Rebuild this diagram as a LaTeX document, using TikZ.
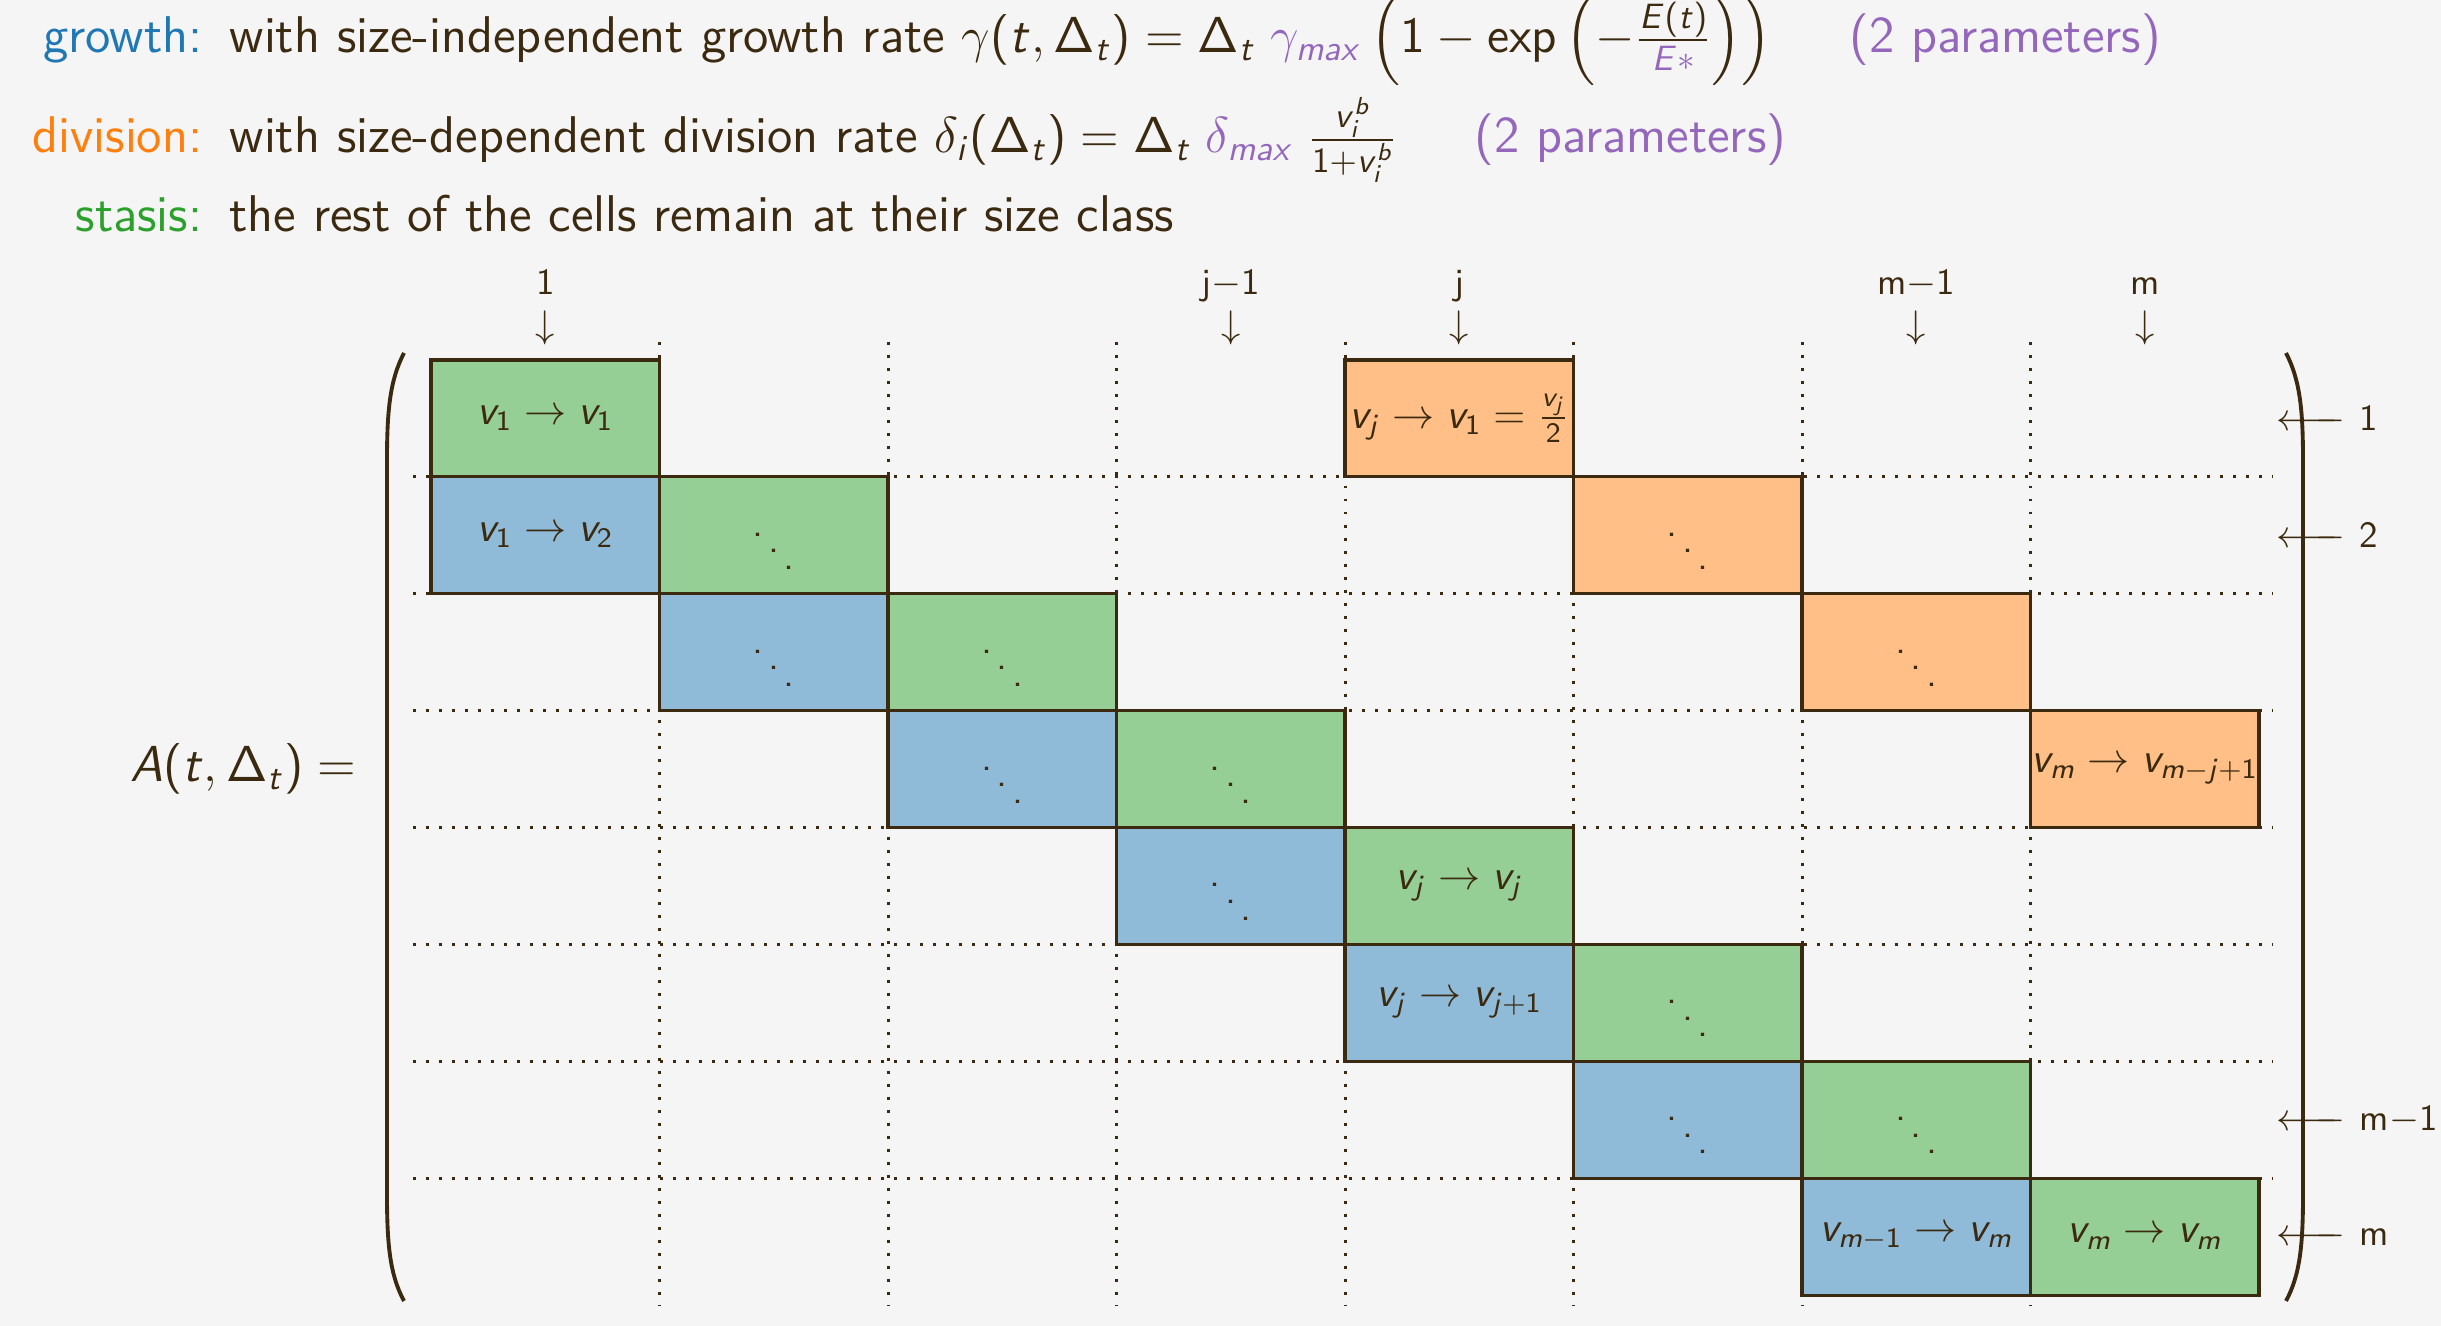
\documentclass[tikz,border=0pt]{standalone}
\usepackage{amsmath}
\usepackage{tikz}

\definecolor{ink}{HTML}{3C2A10}
\definecolor{paper}{HTML}{F5F5F5}
\definecolor{tabblue}{HTML}{1F77B4}
\definecolor{taborange}{HTML}{FF7F0E}
\definecolor{tabgreen}{HTML}{2CA02C}
\definecolor{tabpurple}{HTML}{9467BD}

\SetSymbolFont{operators}{normal}{OT1}{cmss}{m}{n}
\DeclareSymbolFont{sfitalic}{OT1}{cmss}{m}{sl}
\makeatletter
\count@=`a
\loop
  \mathcode\count@=\numexpr"7000+\symsfitalic*"100+\count@\relax
  \ifnum\count@<`z \advance\count@\@ne\repeat
\count@=`A
\loop
  \mathcode\count@=\numexpr"7000+\symsfitalic*"100+\count@\relax
  \ifnum\count@<`Z \advance\count@\@ne\repeat
\makeatother

\newcommand{\celldots}{\mathinner{\mkern1mu\raise9.4pt\vbox{\kern9pt\hbox{.}}\mkern2mu\raise4.7pt\hbox{.}\mkern2mu\hbox{.}\mkern1mu}}
\newcommand{\rowarrow}{\leftarrow\joinrel\relbar\mkern-11mu\relbar}

\begin{document}
\begin{tikzpicture}[font=\sffamily, every node/.style={text=ink}]
    \tikzstyle{cell}     = [draw=ink, line width=0.9pt, minimum width=2.285cm, minimum height=1.169cm,
                            inner sep=0pt, font=\sffamily\fontsize{11.5}{14}\selectfont]
    \tikzstyle{stasis}   = [cell, fill=tabgreen!50]
    \tikzstyle{growth}   = [cell, fill=tabblue!50]
    \tikzstyle{division} = [cell, fill=taborange!50]
    \tikzstyle{dotline}  = [draw=ink, line width=0.85pt, dash pattern=on 0.85pt off 2.85pt]
    \tikzstyle{head}     = [inner sep=0pt, font=\sffamily\fontsize{14.7}{17}\selectfont]
    \tikzstyle{idx}      = [inner sep=0pt, font=\sffamily\fontsize{10.5}{12}\selectfont]
    \tikzstyle{paren}    = [draw=ink, line width=1.1pt]

    \fill[paper] (0,0) rectangle (24.41,-13.26);
    \useasboundingbox (0,0) rectangle (24.41,-13.26);

    \node[head, anchor=base east, text=tabblue] (lgrowth) at (2.03,-0.53) {growth:};
    \node[head, anchor=base west] (tgrowth) at (2.29,-0.53)
      {with size-independent growth rate $\gamma(t,\Delta_t) = \Delta_t\;{\color{tabpurple}\gamma_{max}}\left(1-\exp\left(-\frac{E(t)}{\color{tabpurple}E*}\right)\right)$\hspace{1.5em}{\color{tabpurple}(2 parameters)}};
    \node[head, anchor=base east, text=taborange] (ldivision) at (2.03,-1.53) {division:};
    \node[head, anchor=base west] (tdivision) at (2.29,-1.53)
      {with size-dependent division rate $\delta_i(\Delta_t) = \Delta_t\;{\color{tabpurple}\delta_{max}}\;\frac{v_i^b}{1+v_i^b}$\hspace{1.5em}{\color{tabpurple}(2 parameters)}};
    \node[head, anchor=base east, text=tabgreen] (lstasis) at (2.03,-2.32) {stasis:};
    \node[head, anchor=base west] (tstasis) at (2.29,-2.32) {the rest of the cells remain at their size class};

    \node[head, anchor=base east] (lhs) at (3.57,-7.82) {$A(t,\Delta_t) =$};

    \draw[paren] (4.04,-3.53) .. controls (3.90,-3.80) and (3.87,-4.10) .. (3.87,-4.60)
      -- (3.87,-11.95) .. controls (3.87,-12.45) and (3.90,-12.75) .. (4.04,-13.01);
    \draw[paren] (22.86,-3.53) .. controls (23.00,-3.80) and (23.03,-4.10) .. (23.03,-4.60)
      -- (23.03,-11.95) .. controls (23.03,-12.45) and (23.00,-12.75) .. (22.86,-13.01);

    \begin{scope}[shift={(4.31cm,-3.60cm)}, x=2.285cm, y=-1.169cm]
    \draw[dotline] (-0.08,1) -- (8.06,1);
    \draw[dotline] (-0.08,2) -- (8.06,2);
    \draw[dotline] (-0.08,3) -- (8.06,3);
    \draw[dotline] (-0.08,4) -- (8.06,4);
    \draw[dotline] (-0.08,5) -- (8.06,5);
    \draw[dotline] (-0.08,6) -- (8.06,6);
    \draw[dotline] (-0.08,7) -- (8.06,7);
    \draw[dotline] (1,-0.15) -- (1,8.09);
    \draw[dotline] (2,-0.15) -- (2,8.09);
    \draw[dotline] (3,-0.15) -- (3,8.09);
    \draw[dotline] (4,-0.15) -- (4,8.09);
    \draw[dotline] (5,-0.15) -- (5,8.09);
    \draw[dotline] (6,-0.15) -- (6,8.09);
    \draw[dotline] (7,-0.15) -- (7,8.09);

    \node[stasis] (c11) at (0.5,0.5) {$v_1 \rightarrow v_1$};
    \node[growth] (c21) at (0.5,1.5) {$v_1 \rightarrow v_2$};
    \node[stasis] (c22) at (1.5,1.5) {$\celldots$};
    \node[growth] (c32) at (1.5,2.5) {$\celldots$};
    \node[stasis] (c33) at (2.5,2.5) {$\celldots$};
    \node[growth] (c43) at (2.5,3.5) {$\celldots$};
    \node[stasis] (c44) at (3.5,3.5) {$\celldots$};
    \node[growth] (c54) at (3.5,4.5) {$\celldots$};
    \node[stasis] (c55) at (4.5,4.5) {$v_j \rightarrow v_j$};
    \node[growth] (c65) at (4.5,5.5) {$v_j \rightarrow v_{j+1}$};
    \node[stasis] (c66) at (5.5,5.5) {$\celldots$};
    \node[growth] (c76) at (5.5,6.5) {$\celldots$};
    \node[stasis] (c77) at (6.5,6.5) {$\celldots$};
    \node[growth] (c87) at (6.5,7.5) {$v_{m-1} \rightarrow v_m$};
    \node[stasis] (c88) at (7.5,7.5) {$v_m \rightarrow v_m$};
    \node[division] (c15) at (4.5,0.5) {$v_j \rightarrow v_1 = \frac{v_j}{2}$};
    \node[division] (c26) at (5.5,1.5) {$\celldots$};
    \node[division] (c37) at (6.5,2.5) {$\celldots$};
    \node[division] (c48) at (7.5,3.5) {$v_m \rightarrow v_{m-j+1}$};

    \node[idx, anchor=base] (k1) at (0.5,-0.556) {1};
    \node[idx, anchor=base] (kj1) at (3.5,-0.556) {j$-$1};
    \node[idx, anchor=base] (kj) at (4.5,-0.556) {j};
    \node[idx, anchor=base] (km1) at (6.5,-0.556) {m$-$1};
    \node[idx, anchor=base] (km) at (7.5,-0.556) {m};
    \node[idx] (d1) at (0.5,-0.274) {$\downarrow$};
    \node[idx] (dj1) at (3.5,-0.274) {$\downarrow$};
    \node[idx] (dj) at (4.5,-0.274) {$\downarrow$};
    \node[idx] (dm1) at (6.5,-0.274) {$\downarrow$};
    \node[idx] (dm) at (7.5,-0.274) {$\downarrow$};

    \node[idx, anchor=west] (r1) at (8.074,0.5) {$\rowarrow$\hspace{0.4em}1};
    \node[idx, anchor=west] (r2) at (8.074,1.5) {$\rowarrow$\hspace{0.4em}2};
    \node[idx, anchor=west] (rm1) at (8.074,6.5) {$\rowarrow$\hspace{0.4em}m$-$1};
    \node[idx, anchor=west] (rm) at (8.074,7.5) {$\rowarrow$\hspace{0.4em}m};
    \end{scope}
  \end{tikzpicture}
\end{document}
